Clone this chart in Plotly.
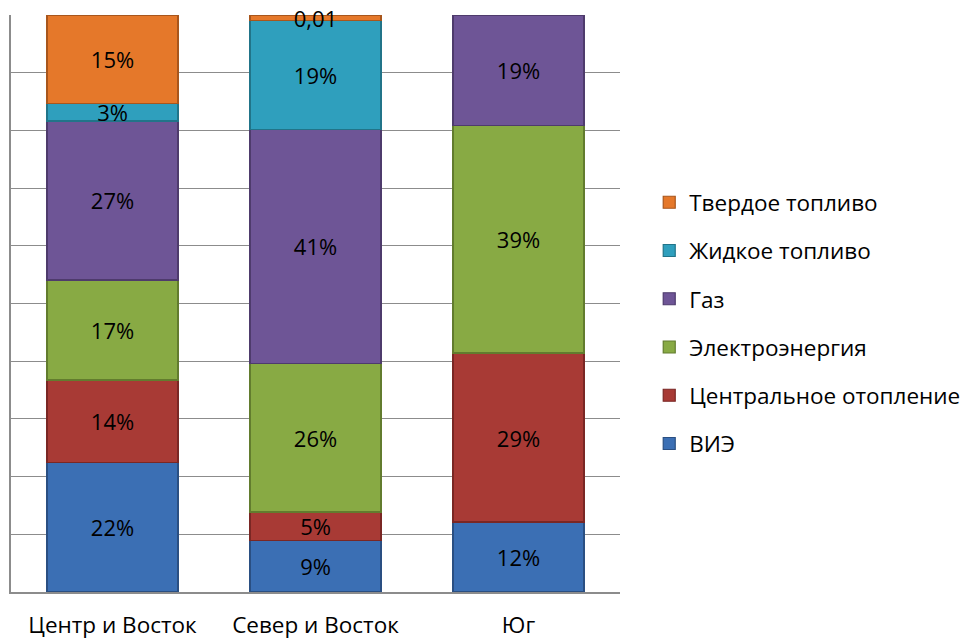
import plotly.graph_objects as go

# Regions (x-axis categories)
regions = ["Центр и Восток", "Север и Восток", "Юг"]

# Share of each heating source per region (fractions of 1; None = not used)
vie = [0.22, 0.09, 0.12]            # ВИЭ
central = [0.14, 0.05, 0.29]        # Центральное отопление
electro = [0.17, 0.26, 0.39]        # Электроэнергия
gas = [0.27, 0.41, 0.19]            # Газ
liquid = [0.03, 0.19, None]         # Жидкое топливо
solid = [0.15, 0.01, None]          # Твердое топливо

series_names = ["ВИЭ", "Центральное отопление", "Электроэнергия",
                "Газ", "Жидкое топливо", "Твердое топливо"]
series_values = [vie, central, electro, gas, liquid, solid]
series_colors = ["#3b6fb4", "#a83a35", "#88aa44", "#6e5596", "#2f9fbd", "#e5782a"]
series_lines = ["#2a4f82", "#7a2724", "#627c2e", "#4e3b6c", "#217489", "#a8561c"]

# Cells whose data label shows the raw fraction instead of a percentage
raw_label_cells = {("Север и Восток", "Твердое топливо")}


def make_label(region, name, v):
    if v is None:
        return ""
    if (region, name) in raw_label_cells:
        return f"{v:.2f}".replace(".", ",")
    return f"{round(v * 100)}%"


FONT = "Open Sans"
FS = 22.5

fig = go.Figure()
n = len(series_names)
for i, (name, vals, col, lc) in enumerate(zip(series_names, series_values,
                                               series_colors, series_lines)):
    fig.add_trace(go.Bar(
        name=name,
        x=regions,
        y=vals,
        legendgroup=name,
        legendrank=n - i,          # top of the stack listed first
        marker=dict(color=col, line=dict(color=lc, width=1.2)),
        text=[make_label(r, name, v) for r, v in zip(regions, vals)],
        textposition="inside",
        insidetextanchor="middle",
        textangle=0,
        constraintext="none",
        cliponaxis=False,
        textfont=dict(family=FONT, size=22, color="#000000"),
        hoverinfo="skip",
    ))

fig.update_layout(
    barmode="stack",
    barnorm="fraction",
    bargap=0.355,
    width=963,
    height=639,
    margin=dict(l=11, r=343, t=15, b=47, autoexpand=False),
    paper_bgcolor="white",
    plot_bgcolor="white",
    font=dict(family=FONT, size=FS, color="#000000"),
    legend=dict(
        x=1.048, xanchor="left",
        y=0.466, yanchor="middle",
        traceorder="grouped",
        tracegroupgap=16,
        font=dict(family=FONT, size=FS, color="#000000"),
        itemwidth=30,
        bgcolor="rgba(0,0,0,0)",
    ),
)

fig.update_xaxes(
    automargin=False,
    showgrid=False,
    showline=True,
    linecolor="#8c8c8c",
    linewidth=1.5,
    ticks="",
    ticklabelstandoff=12,
    tickfont=dict(family=FONT, size=FS, color="#000000"),
)
fig.update_yaxes(
    range=[0, 1],
    dtick=0.1,
    showgrid=True,
    gridcolor="#8c8c8c",
    gridwidth=1.2,
    showline=True,
    linecolor="#8c8c8c",
    linewidth=1.5,
    showticklabels=False,
    ticks="",
    zeroline=False,
)

fig.write_html("out.html")
